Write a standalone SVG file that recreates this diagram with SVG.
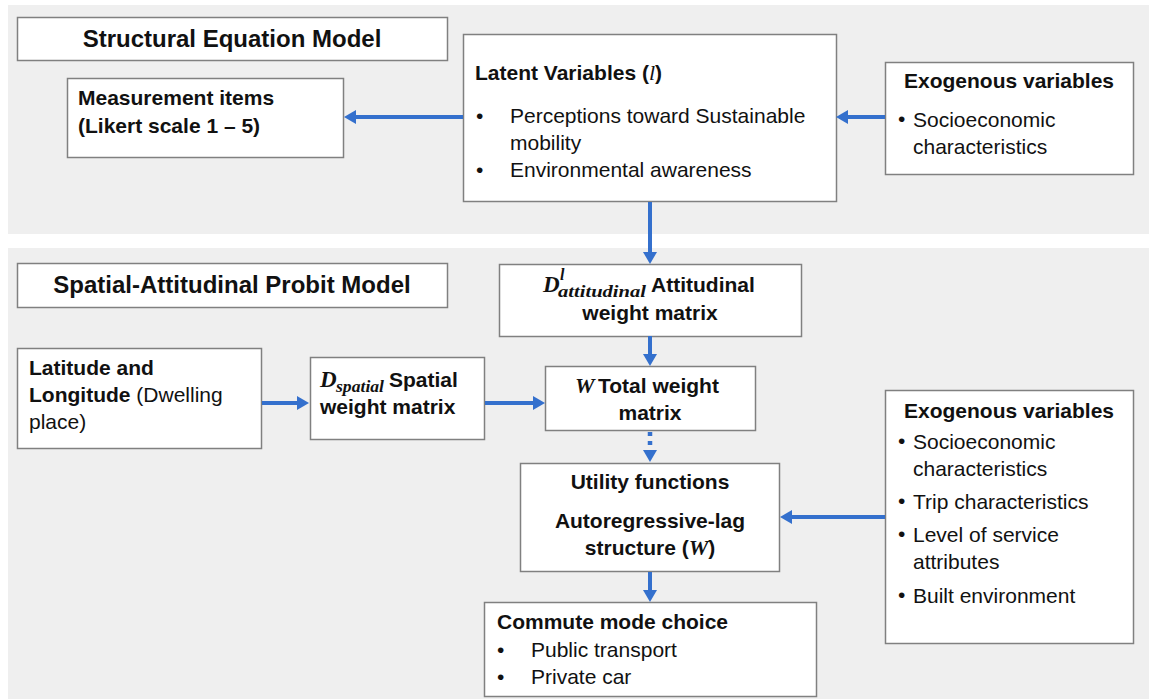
<svg xmlns="http://www.w3.org/2000/svg" width="1151" height="699" viewBox="0 0 1151 699">
<style>
.panel{fill:#efefef;stroke:none}
.box{fill:#ffffff;stroke:#808080;stroke-width:1.5}
.t{font-family:"Liberation Sans",Arial,sans-serif;font-size:21px;fill:#111}
.b{font-weight:bold}
.title{font-family:"Liberation Sans",Arial,sans-serif;font-size:24px;font-weight:bold;fill:#111}
.m{font-family:"Liberation Serif","Times New Roman",serif;font-style:italic;font-weight:bold;fill:#111}
.il{font-family:"Liberation Serif","Times New Roman",serif;font-style:italic;font-weight:normal}
.bul{font-family:"Liberation Sans",Arial,sans-serif;font-size:21px;fill:#111}
.conn{stroke:#3470cd;stroke-width:4;fill:none}
.dot{stroke:#3470cd;stroke-width:4.5;fill:none;stroke-dasharray:4 5}
</style>
<defs>
<marker id="ah" markerUnits="userSpaceOnUse" markerWidth="12" markerHeight="14" refX="6" refY="7" orient="auto">
<path d="M0,0 L12,7 L0,14 z" fill="#3470cd"/>
</marker>
</defs>
<rect class="panel" x="8" y="5" width="1141" height="229"/>
<rect class="panel" x="8" y="248" width="1141" height="451"/>

<g id="sem-title">
<rect class="box" x="17.5" y="17.5" width="430" height="43"/>
<text class="title" x="232" y="47" text-anchor="middle">Structural Equation Model</text>
</g>
<g id="measurement">
<rect class="box" x="67.5" y="78.5" width="276" height="79"/>
<text class="t b" x="78" y="105">Measurement items</text>
<text class="t b" x="78" y="133">(Likert scale 1 – 5)</text>
</g>
<g id="latent">
<rect class="box" x="463.5" y="34.5" width="373" height="167"/>
<text class="t b" x="475" y="80">Latent Variables (<tspan class="il" font-size="22">l</tspan>)</text>
<text class="bul" x="476" y="123">•</text>
<text class="t" x="510" y="123">Perceptions toward Sustainable</text>
<text class="t" x="510" y="150">mobility</text>
<text class="bul" x="476" y="177">•</text>
<text class="t" x="510" y="177">Environmental awareness</text>
</g>
<g id="exo-top">
<rect class="box" x="885.5" y="62.5" width="248" height="112"/>
<text class="t b" x="1009" y="88" text-anchor="middle">Exogenous variables</text>
<text class="t" x="898" y="126" font-size="17">•</text>
<text class="t" x="913" y="127">Socioeconomic</text>
<text class="t" x="913" y="154">characteristics</text>
</g>

<g id="sapm-title">
<rect class="box" x="17.5" y="263.5" width="430" height="44"/>
<text class="title" x="232" y="293" text-anchor="middle">Spatial-Attitudinal Probit Model</text>
</g>
<g id="d-att">
<rect class="box" x="499.5" y="264.5" width="302" height="72"/>
<text class="m" x="543" y="292" font-size="23">D</text>
<text class="m" x="560" y="280" font-size="16">l</text>
<text class="m" x="558" y="297" font-size="16" textLength="88" lengthAdjust="spacingAndGlyphs">attitudinal</text>
<text class="t b" x="651" y="292">Attitudinal</text>
<text class="t b" x="650" y="320" text-anchor="middle">weight matrix</text>
</g>
<g id="latlon">
<rect class="box" x="17.5" y="348.5" width="244" height="100"/>
<text class="t b" x="29" y="375">Latitude and</text>
<text class="t" x="29" y="402"><tspan class="b">Longitude</tspan> (Dwelling</text>
<text class="t" x="29" y="429">place)</text>
</g>
<g id="d-spatial">
<rect class="box" x="310.5" y="357.5" width="174" height="82"/>
<text class="m" x="320" y="387" font-size="23">D</text>
<text class="m" x="336" y="392" font-size="16" textLength="48" lengthAdjust="spacingAndGlyphs">spatial</text>
<text class="t b" x="389" y="387">Spatial</text>
<text class="t b" x="320" y="414">weight matrix</text>
</g>
<g id="w-total">
<rect class="box" x="545.5" y="366.5" width="210" height="64"/>
<text class="m" x="575" y="393" font-size="22">W</text>
<text class="t b" x="598" y="393">Total weight</text>
<text class="t b" x="650" y="420" text-anchor="middle">matrix</text>
</g>
<g id="utility">
<rect class="box" x="520.5" y="463.5" width="259" height="108"/>
<text class="t b" x="650" y="489" text-anchor="middle">Utility functions</text>
<text class="t b" x="650" y="528" text-anchor="middle">Autoregressive-lag</text>
<text class="t b" x="650" y="555" text-anchor="middle">structure (<tspan class="m" font-size="22">W</tspan>)</text>
</g>
<g id="commute">
<rect class="box" x="484.5" y="602.5" width="332" height="94"/>
<text class="t b" x="497" y="629">Commute mode choice</text>
<text class="bul" x="497" y="657">•</text>
<text class="t" x="531" y="657">Public transport</text>
<text class="bul" x="497" y="684">•</text>
<text class="t" x="531" y="684">Private car</text>
</g>
<g id="exo-bottom">
<rect class="box" x="885.5" y="390.5" width="248" height="253"/>
<text class="t b" x="1009" y="418" text-anchor="middle">Exogenous variables</text>
<text class="t" x="898" y="448" font-size="17">•</text>
<text class="t" x="913" y="449">Socioeconomic</text>
<text class="t" x="913" y="476">characteristics</text>
<text class="t" x="898" y="508" font-size="17">•</text>
<text class="t" x="913" y="509">Trip characteristics</text>
<text class="t" x="898" y="541" font-size="17">•</text>
<text class="t" x="913" y="542">Level of service</text>
<text class="t" x="913" y="569">attributes</text>
<text class="t" x="898" y="602" font-size="17">•</text>
<text class="t" x="913" y="603">Built environment</text>
</g>

<g id="connectors">
<path class="conn" d="M463,117 L350,117" marker-end="url(#ah)"/>
<path class="conn" d="M885,117 L842,117" marker-end="url(#ah)"/>
<path class="conn" d="M650,202 L650,258" marker-end="url(#ah)"/>
<path class="conn" d="M650,336 L650,360" marker-end="url(#ah)"/>
<path class="conn" d="M262,403 L303,403" marker-end="url(#ah)"/>
<path class="conn" d="M485,403 L539,403" marker-end="url(#ah)"/>
<path class="dot" d="M650,432 L650,456" marker-end="url(#ah)"/>
<path class="conn" d="M885,517 L786,517" marker-end="url(#ah)"/>
<path class="conn" d="M650,572 L650,596" marker-end="url(#ah)"/>
</g>
</svg>
